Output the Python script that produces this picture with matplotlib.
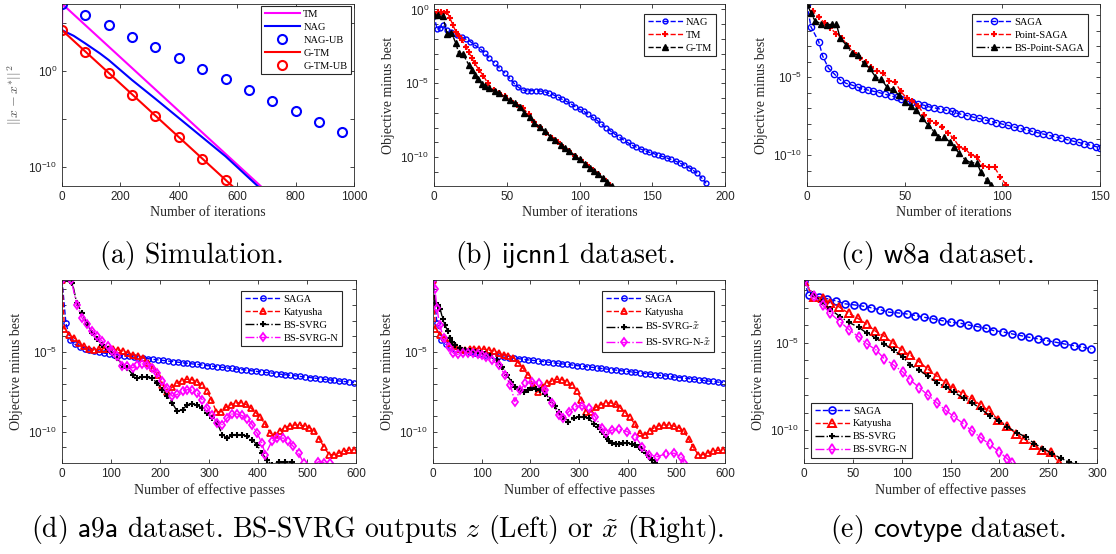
import matplotlib
matplotlib.use('Agg')
import matplotlib.pyplot as plt
import numpy as np

plt.rcParams['font.family'] = ['Liberation Sans', 'DejaVu Sans']
plt.rcParams['mathtext.fontset'] = 'cm'
plt.rcParams['axes.unicode_minus'] = True

# ---------------- data (y values are log10 of the plotted quantity) ----------------
# (a) simulation
sim_tm_x = [0, 1, 680]
sim_tm_y = [4.27, 7.0, -12.0]
sim_nag_x = [0, 40, 80, 130, 160, 240, 320, 400, 480, 560, 670]
sim_nag_y = [4.27, 3.68, 2.88, 1.84, 1.15, -0.94, -2.9, -4.9, -6.9, -8.9, -12.0]
sim_nagub_x = [0, 80, 160, 240, 320, 400, 480, 560, 640, 720, 800, 880, 960]
sim_nagub_y = [7.0, 5.9, 4.76, 3.6, 2.5, 1.39, 0.24, -0.87, -1.98, -3.09, -4.2, -5.3, -6.4]
sim_gtm_x = [0, 583]
sim_gtm_y = [4.27, -12.0]
sim_gtmub_x = [0, 80, 160, 240, 320, 400, 480, 560]
sim_gtmub_y = [4.27, 2.0, -0.2, -2.47, -4.69, -6.9, -9.17, -11.4]

# (b) ijcnn1
ij_nag_x = [0, 2, 4, 6, 9, 12, 16, 19, 22, 25, 28, 32, 35, 38, 42, 45, 49, 52, 55, 58, 61,
            64, 67, 70, 73, 76, 79, 82, 85, 88, 91, 94, 97, 100, 103, 106, 109, 112, 115,
            118, 121, 124, 127, 130, 133, 136, 139, 142, 145, 148, 151, 154, 157, 160, 163,
            166, 169, 172, 175, 178, 181, 184, 187]
ij_nag_y = [-0.38, -1.3, -1.25, -1.05, -1.4, -1.55, -1.73, -1.85, -2.02, -2.18, -2.41,
            -2.68, -2.97, -3.31, -3.65, -3.98, -4.32, -4.66, -5.0, -5.27, -5.45,
            -5.5, -5.5, -5.5, -5.52, -5.57, -5.68, -5.78, -5.92, -6.08, -6.22,
            -6.38, -6.58, -6.75, -6.9, -7.1, -7.3, -7.5, -7.75, -8.0, -8.2,
            -8.42, -8.62, -8.82, -9.0, -9.18, -9.32, -9.45, -9.56, -9.67, -9.76,
            -9.85, -9.95, -10.05, -10.15, -10.27, -10.4, -10.53, -10.7, -10.88, -11.09,
            -11.4, -11.77]
ij_tm_x = [0, 3, 5, 7, 9, 11, 13, 15, 17, 19, 22, 24, 26, 28, 31, 34, 37, 41, 45, 49,
           53, 57, 61, 65, 69, 73, 77, 81, 85, 89, 93, 97, 101, 105, 109, 113, 117, 121]
ij_tm_y = [-0.3, -0.2, -0.15, -0.26, -0.18, -0.6, -1.05, -1.5, -1.8, -2.07,
           -2.52, -2.9, -3.3, -3.65, -4.1, -4.5, -5.0, -5.45, -5.65, -5.88,
           -6.18, -6.45, -6.65, -7.1, -7.6, -7.98, -8.35, -8.7, -9.0, -9.3,
           -9.6, -9.9, -10.2, -10.55, -10.85, -11.15, -11.5, -11.85]
ij_gtm_x = [0, 3, 6, 9, 12, 15, 17, 20, 24, 26, 28, 30, 33, 35, 38, 42, 45, 49, 52, 56,
            59, 62, 66, 69, 73, 76, 80, 83, 87, 90, 93, 97, 100, 104, 107, 110, 113, 116,
            119, 122]
ij_gtm_y = [-0.38, -0.38, -0.45, -1.65, -1.56, -2.29, -2.97, -3.04, -3.76, -4.1,
            -4.43, -4.73, -5.05, -5.18, -5.34, -5.52, -5.68, -5.9, -6.13, -6.35,
            -6.62, -6.99, -7.3, -7.66, -7.98, -8.25, -8.6, -8.85, -9.15, -9.4,
            -9.6, -9.9, -10.15, -10.45, -10.7, -10.95, -11.15, -11.4, -11.65, -11.95]

# (c) w8a
w8_saga_x = [0, 2, 6, 8, 11, 14, 17, 20, 23, 26, 28, 31, 34, 37, 40, 43, 46, 48, 51, 54,
             57, 60, 62, 65, 68, 71, 74, 76, 79, 82, 85, 88, 91, 94, 97, 100, 103, 106,
             109, 112, 115, 118, 121, 124, 127, 130, 133, 136, 139, 142, 145, 148, 150]
w8_saga_y = [-0.29, -1.75, -2.71, -3.63, -4.42, -4.79, -5.17, -5.39, -5.5, -5.64,
             -5.73, -5.82, -5.9, -5.99, -6.09, -6.2, -6.29, -6.41, -6.52, -6.6,
             -6.72, -6.8, -6.89, -6.96, -7.04, -7.11, -7.18, -7.29, -7.38, -7.47,
             -7.56, -7.65, -7.74, -7.83, -7.92, -8.01, -8.1, -8.2, -8.29, -8.38,
             -8.47, -8.56, -8.65, -8.74, -8.83, -8.92, -9.01, -9.1, -9.19, -9.28,
             -9.37, -9.46, -9.53]
w8_pt_x = [0, 3, 6, 9, 12, 15, 18, 21, 24, 27, 30, 33, 36, 39, 42, 45, 48, 51, 54, 57,
           60, 63, 66, 69, 72, 75, 78, 81, 84, 87, 90, 93, 96, 99, 102]
w8_pt_y = [-0.29, -0.75, -1.15, -1.5, -1.85, -2.2, -2.5, -3.0, -3.45, -3.75,
           -4.0, -4.35, -4.6, -4.7, -5.22, -5.29, -5.9, -6.35, -6.55, -6.85,
           -7.4, -7.8, -7.96, -8.2, -8.6, -8.9, -9.5, -9.6, -10.0, -10.1,
           -10.7, -10.75, -10.8, -11.4, -11.93]
w8_bs_x = [0, 2, 4, 7, 10, 13, 15, 17, 20, 23, 26, 29, 32, 35, 38, 41, 44, 47, 50, 53,
           56, 59, 62, 65, 67, 70, 73, 75, 78, 81, 84, 87, 89, 92, 94]
w8_bs_y = [-0.29, -0.85, -1.36, -1.55, -1.62, -1.6, -1.57, -2.49, -2.92, -3.46,
           -3.57, -4.1, -4.42, -4.96, -5.13, -5.64, -5.77, -6.14, -6.57, -6.85,
           -7.1, -7.64, -8.07, -8.5, -8.82, -8.82, -9.14, -9.46, -9.9, -10.3,
           -10.5, -10.5, -11.1, -11.6, -11.93]

# (d) a9a, shared SAGA / Katyusha curves
a9_saga_x = [0, 8, 17, 26, 36, 46] + list(range(56, 600, 10))
a9_saga_y = [-0.45, -3.17, -4.2, -4.48, -4.65, -4.78,
             -4.86, -4.93, -4.99, -5.05, -5.10, -5.15,
             -5.19, -5.22, -5.26, -5.30, -5.33, -5.37, -5.40, -5.44, -5.48, -5.51,
             -5.55, -5.58, -5.62, -5.66, -5.69, -5.73, -5.76, -5.80, -5.84, -5.87,
             -5.91, -5.94, -5.98, -6.02, -6.05, -6.09, -6.12, -6.16, -6.20, -6.23,
             -6.27, -6.30, -6.34, -6.38, -6.41, -6.45, -6.48, -6.52, -6.56, -6.59,
             -6.63, -6.66, -6.70, -6.74, -6.77, -6.81, -6.84, -6.88, -6.91]
a9_kat_x = [0, 5] + list(range(15, 600, 10))
a9_kat_y = [-0.45, -3.55, -3.91, -4.1, -4.4, -4.62, -4.8, -4.86, -4.82, -4.76, -4.76,
            -4.8, -4.86, -4.92, -5.03, -5.16, -5.25, -5.34, -5.65, -6.0, -6.4,
            -7.05, -7.5, -7.2, -6.95, -6.78, -6.7, -6.72, -6.85, -7.05, -7.42,
            -8.0, -8.75, -8.75, -8.45, -8.3, -8.2, -8.18, -8.28, -8.5, -8.8,
            -9.1, -9.55, -10.1, -10.2, -9.95, -9.75, -9.62, -9.58, -9.6, -9.65,
            -9.75, -9.95, -10.45, -11.0, -11.45, -11.45, -11.35, -11.25, -11.18, -11.16]
a9_bs_x = [0, 21, 30, 41, 51, 62, 72, 82, 93, 103, 113, 123, 133, 144, 154, 164, 174,
           184, 194, 205, 215, 225, 235, 246, 256, 266, 276, 286, 296, 306, 317, 327,
           337, 347, 357, 367, 378, 388, 398, 408, 418, 428, 442, 455, 469]
a9_bs_y = [-0.45, -0.6, -1.88, -2.51, -3.24, -3.77, -4.19, -4.51, -4.82, -5.03,
           -5.39, -5.77, -5.98, -6.4, -6.61, -6.57, -6.57, -6.65, -6.93, -7.35,
           -7.77, -8.19, -8.72, -8.61, -8.3, -8.25, -8.34, -8.51, -8.83, -9.14,
           -9.46, -10.2, -10.41, -10.24, -10.2, -10.2, -10.3, -10.51, -10.83, -11.36,
           -11.78, -12.1, -11.93, -11.9, -11.93]
a9_bsn_x = [0, 19, 30, 41, 51, 62, 72, 82, 93, 103, 113, 123, 133, 144, 154, 164, 174,
            184, 194, 205, 215, 225, 235, 246, 256, 266, 276, 286, 296, 306, 317, 327,
            337, 347, 357, 367, 378, 388, 398, 408, 415, 428, 438, 452, 462, 472, 483,
            493, 508, 523, 535, 546]
a9_bsn_y = [-0.45, -0.45, -2.0, -2.84, -3.24, -3.66, -3.98, -4.3, -4.61, -4.93,
            -5.24, -5.87, -5.87, -5.98, -5.81, -5.73, -5.77, -5.98, -6.3, -6.82,
            -7.24, -7.77, -7.66, -7.45, -7.35, -7.39, -7.56, -7.98, -8.51, -8.93,
            -9.46, -9.56, -9.14, -8.89, -8.89, -8.98, -9.18, -9.56, -10.09, -10.72,
            -11.46, -10.62, -10.41, -10.41, -10.62, -10.93, -11.36, -11.99, -12.4,
            -11.9, -11.95, -11.97]
# (d, right) outputs x-tilde
a9_bsx_x = [0, 5, 10, 15, 20, 25, 30, 35, 40, 46, 56, 66, 76, 86, 96, 107, 118, 131,
            142, 152, 161, 169, 178, 186, 195, 203, 212, 220, 231, 241, 250, 258, 268,
            278, 289, 299, 310, 320, 330, 340, 347, 355, 362, 368, 375, 382, 390, 399,
            408, 416, 423, 430, 437, 444, 450, 456]
a9_bsx_y = [-0.45, -1.88, -2.0, -2.3, -2.9, -3.3, -3.65, -4.1, -4.35, -4.54,
            -4.75, -4.85, -4.92, -5.0, -5.06, -5.13, -5.25, -5.49, -5.9, -6.43,
            -6.85, -7.17, -7.4, -7.48, -7.35, -7.27, -7.3, -7.38, -7.6, -8.0,
            -8.4, -8.74, -9.1, -9.37, -9.15, -9.06, -9.08, -9.16, -9.5, -9.69,
            -10.05, -10.32, -10.6, -10.73, -10.77, -10.77, -10.75, -10.73, -10.78, -10.84,
            -11.0, -11.16, -11.35, -11.58, -11.8, -11.96]
a9_bsnx_x = [0, 4, 8, 14, 22, 32, 42, 52, 62, 72, 82, 92, 100, 108, 121, 135, 148, 159,
             168, 179, 190, 203, 217, 231, 245, 258, 268, 279, 292, 306, 320, 333, 347,
             355, 368, 382, 399, 416, 430, 444, 461, 478, 495, 509, 516]
a9_bsnx_y = [-0.45, -1.0, -2.23, -3.3, -4.12, -4.65, -5.06, -5.13, -5.05, -5.06,
             -5.05, -5.08, -5.15, -5.28, -5.49, -5.8, -6.43, -7.06, -8.11, -7.38,
             -6.95, -6.89, -6.95, -7.38, -8.22, -8.95, -9.16, -8.74, -8.43, -8.36,
             -8.53, -9.06, -9.79, -10.1, -9.9, -9.85, -10.0, -10.32, -10.95, -11.47,
             -11.58, -11.4, -11.36, -11.58, -11.96]

# (e) covtype
cov_saga_x = [0, 5, 15, 24, 33, 42, 51, 60, 69, 78, 87, 96, 105, 114, 123, 132, 141,
              150, 160, 168, 177, 186, 194, 204, 213, 222, 230, 240, 248, 258, 266, 276,
              285, 294]
cov_saga_y = [-1.48, -2.28, -2.38, -2.48, -2.61, -2.77, -2.83, -2.9, -3.0, -3.11,
              -3.25, -3.29, -3.35, -3.44, -3.54, -3.63, -3.73, -3.82, -3.88, -3.98,
              -4.07, -4.17, -4.3, -4.38, -4.49, -4.59, -4.68, -4.78, -4.87, -4.97,
              -5.06, -5.16, -5.25, -5.35]
cov_kat_x = [0, 10, 19, 27, 36, 46, 55, 64, 73, 82, 91, 100, 109, 118, 127, 136, 145,
             153, 163, 172, 181, 189, 199, 208, 217, 225, 235, 244, 253, 261]
cov_kat_y = [-1.48, -2.37, -2.46, -2.71, -2.95, -3.32, -3.6, -3.93, -4.33, -4.62,
             -5.0, -5.42, -5.71, -6.09, -6.51, -6.91, -7.28, -7.56, -7.94, -8.19,
             -8.57, -8.86, -9.39, -9.77, -10.19, -10.48, -10.86, -11.15, -11.25, -11.87]
cov_bs_x = [0, 9, 18, 27, 37, 46, 56, 64, 74, 82, 92, 101, 109, 118, 127, 136, 145, 154,
            164, 172, 181, 190, 200, 208, 218, 227, 236, 245, 254, 263, 271, 278]
cov_bs_y = [-1.48, -2.2, -2.65, -3.09, -3.51, -3.83, -4.12, -4.43, -4.75, -5.07,
            -5.42, -5.8, -6.28, -6.56, -6.91, -7.27, -7.52, -7.84, -8.18, -8.43,
            -8.76, -9.18, -9.46, -9.81, -10.13, -10.38, -10.76, -11.05, -11.33, -11.6,
            -11.8, -11.95]
cov_bsn_x = [0, 10, 19, 27, 37, 46, 56, 64, 74, 82, 92, 101, 109, 118, 127, 136, 145,
             154, 164, 172, 181, 190, 200, 208, 213]
cov_bsn_y = [-1.48, -2.32, -2.84, -3.32, -3.8, -4.24, -4.66, -5.04, -5.42, -5.9,
             -6.28, -6.66, -7.14, -7.56, -8.0, -8.43, -8.86, -9.24, -9.66, -10.04,
             -10.42, -10.8, -11.24, -11.62, -11.87]

captions = [r'(a) Simulation.', r'(b) $\mathsf{ijcnn1}$ dataset.', r'(c) $\mathsf{w8a}$ dataset.',
            r'(d) $\mathsf{a9a}$ dataset. BS-SVRG outputs $z$ (Left) or $\tilde{x}$ (Right).',
            r'(e) $\mathsf{covtype}$ dataset.']

DARK = '#262626'
SERIF = 'Liberation Serif'


def ten(v):
    return 10.0 ** np.asarray(v, dtype=float)


def setup(ax, xmax, xstep, ylo, yhi, exps, labelled, xlabel, ylabel):
    ax.set_yscale('log')
    ax.set_xlim(0, xmax)
    ax.set_ylim(10.0 ** ylo, 10.0 ** yhi)
    ax.set_xticks(np.arange(0, xmax + 1, xstep))
    ax.set_yticks([10.0 ** k for k in exps])
    ax.set_yticklabels([r'$\mathregular{10^{%d}}$' % k if k in labelled else '' for k in exps])
    ax.yaxis.set_minor_locator(matplotlib.ticker.NullLocator())
    ax.tick_params(direction='in', top=True, right=True, length=3, width=0.6,
                   labelsize=8.5, colors=DARK, pad=3.5)
    for s in ax.spines.values():
        s.set_linewidth(0.6)
        s.set_color(DARK)
    ax.set_xlabel(xlabel, fontfamily=SERIF, fontsize=10, color=DARK, labelpad=2.5)
    if ylabel.startswith('$'):
        ax.set_ylabel(ylabel, fontsize=10, color='#505050', labelpad=3)
    else:
        ax.set_ylabel(ylabel, fontfamily=SERIF, fontsize=10, color=DARK, labelpad=4)


def legend(ax, loc, anchor):
    leg = ax.legend(loc=loc, bbox_to_anchor=anchor, borderaxespad=0,
                    prop={'family': SERIF, 'size': 7.5}, fancybox=False, framealpha=1,
                    edgecolor=DARK, handlelength=3.4, handletextpad=0.3, borderpad=0.35,
                    labelspacing=0.35, numpoints=1)
    leg.get_frame().set_linewidth(0.8)


fig = plt.figure(figsize=(11.16, 5.54), dpi=100)
W, H = 1116.0, 554.0


def box(l, t, r, b):
    return [l / W, 1 - b / H, (r - l) / W, (b - t) / H]


ax_a = fig.add_axes(box(62, 4, 354, 186))
ax_b = fig.add_axes(box(434, 4, 725, 186))
ax_c = fig.add_axes(box(807, 4, 1100, 186))
ax_d = fig.add_axes(box(62, 280, 356, 463))
ax_e = fig.add_axes(box(433, 280, 725, 463))
ax_f = fig.add_axes(box(804, 280, 1097, 463))

# (a)
ax = ax_a
ax.plot(sim_tm_x, ten(sim_tm_y), color='#ff00ff', lw=1.5, label='TM')
ax.plot(sim_nag_x, ten(sim_nag_y), color='#0000ff', lw=1.5, label='NAG')
ax.plot(sim_nagub_x, ten(sim_nagub_y), 'o', color='#0000ff', mfc='none', ms=6.5, mew=1.5,
        label='NAG-UB')
ax.plot(sim_gtm_x, ten(sim_gtm_y), color='#ff0000', lw=1.5, label='G-TM')
ax.plot(sim_gtmub_x, ten(sim_gtmub_y), 'o', color='#ff0000', mfc='none', ms=6.5, mew=1.5,
        label='G-TM-UB')
setup(ax, 1000, 200, -12, 7, [-10, -5, 0, 5], [-10, 0], 'Number of iterations',
      r'$||x - x^{*}||^2$')
legend(ax, 'upper right', (0.99, 0.99))

# (b)
ax = ax_b
ax.plot(ij_nag_x, ten(ij_nag_y), '--o', color='#0000ff', mfc='none', ms=3.5, mew=1.0, lw=1.0,
        label='NAG')
ax.plot(ij_tm_x, ten(ij_tm_y), '--+', color='#ff0000', ms=5, mew=1.5, lw=1.0, label='TM')
ax.plot(ij_gtm_x, ten(ij_gtm_y), '--^', color='black', ms=4.5, lw=1.0, label='G-TM')
setup(ax, 200, 50, -11.95, 0.37, range(-11, 1), [-10, -5, 0], 'Number of iterations',
      'Objective minus best')
legend(ax, 'upper right', (1 - 9 / 291, 1 - 10 / 182))

# (c)
ax = ax_c
ax.plot(w8_saga_x, ten(w8_saga_y), '--o', color='#0000ff', mfc='none', ms=4.5, mew=1.0, lw=1.0,
        label='SAGA')
ax.plot(w8_pt_x, ten(w8_pt_y), '--+', color='#ff0000', ms=5, mew=1.5, lw=1.0, label='Point-SAGA')
ax.plot(w8_bs_x, ten(w8_bs_y), '-.^', color='black', ms=5, lw=1.0, label='BS-Point-SAGA')
setup(ax, 150, 50, -11.99, -0.29, range(-11, 0), [-10, -5], 'Number of iterations',
      'Objective minus best')
legend(ax, 'upper right', (1 - 12 / 293, 1 - 10 / 182))

# (d) left and right
for ax, bx, by, nx, ny, lab1, lab2 in [
        (ax_d, a9_bs_x, a9_bs_y, a9_bsn_x, a9_bsn_y, 'BS-SVRG', 'BS-SVRG-N'),
        (ax_e, a9_bsx_x, a9_bsx_y, a9_bsnx_x, a9_bsnx_y,
         r'BS-SVRG-$\tilde{x}$', r'BS-SVRG-N-$\tilde{x}$')]:
    ax.plot(a9_saga_x, ten(a9_saga_y), '--o', color='#0000ff', mfc='none', ms=3.8, mew=1.0,
            lw=1.0, label='SAGA')
    ax.plot(a9_kat_x, ten(a9_kat_y), '--^', color='#ff0000', mfc='none', ms=5, mew=1.3,
            lw=1.0, label='Katyusha')
    ax.plot(bx, ten(by), '-.+', color='black', ms=4, mew=1.5, lw=1.0, label=lab1)
    ax.plot(nx, ten(ny), '-.d', color='#ff00ff', mfc='none', ms=4.5, mew=1.3, lw=1.0,
            label=lab2)
    setup(ax, 600, 100, -11.98, -0.44, range(-11, 0), [-10, -5],
          'Number of effective passes', 'Objective minus best')
legend(ax_d, 'upper right', (1 - 14 / 294, 1 - 11 / 183))
legend(ax_e, 'upper right', (1 - 11 / 292, 1 - 11 / 183))

# (e) covtype
ax = ax_f
ax.plot(cov_saga_x, ten(cov_saga_y), '--o', color='#0000ff', mfc='none', ms=5, mew=1.2, lw=1.0,
        label='SAGA')
ax.plot(cov_kat_x, ten(cov_kat_y), '--^', color='#ff0000', mfc='none', ms=6, mew=1.4, lw=1.0,
        label='Katyusha')
ax.plot(cov_bs_x, ten(cov_bs_y), '-.+', color='black', ms=4.5, mew=1.5, lw=1.0, label='BS-SVRG')
ax.plot(cov_bsn_x, ten(cov_bsn_y), '-.d', color='#ff00ff', mfc='none', ms=5, mew=1.3, lw=1.0,
        label='BS-SVRG-N')
setup(ax, 300, 50, -11.87, -1.41, range(-11, -1), [-10, -5], 'Number of effective passes',
      'Objective minus best')
legend(ax, 'lower left', (7 / 293, 5 / 183))

# captions
for (cx, cy), text in zip([(192, 255), (565, 255), (937, 255), (378, 529), (948, 529)], captions):
    fig.text(cx / W, 1 - cy / H, text, ha='center', va='center', fontsize=20,
             fontfamily='cmr10', color='black')

fig.savefig('out.png', dpi=100)
